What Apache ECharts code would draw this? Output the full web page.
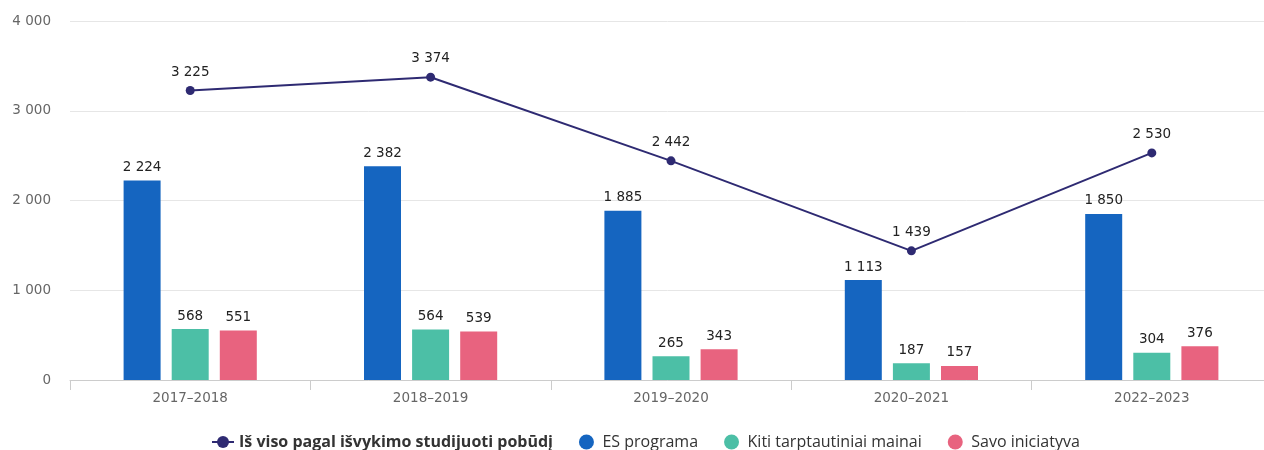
<!DOCTYPE html>
<html>
<head>
<meta charset="utf-8">
<script src="https://cdn.jsdelivr.net/npm/echarts@6/dist/echarts.min.js"></script>
<style>
  html, body { margin: 0; padding: 0; background: #ffffff; }
  #chart { width: 1264px; height: 450px; }
</style>
</head>
<body>
<div id="chart"></div>
<script>
// Studijų metai
const categories = ['2017–2018', '2018–2019', '2019–2020', '2020–2021', '2022–2023'];

// Išvykusių studentų skaičius
const totalValues = [3225, 3374, 2442, 1439, 2530];
const esValues = [2224, 2382, 1885, 1113, 1850];
const otherExchangeValues = [568, 564, 265, 187, 304];
const ownInitiativeValues = [551, 539, 343, 157, 376];

const yTicks = [0, 1000, 2000, 3000, 4000];

const seriesNames = [
  'Iš viso pagal išvykimo studijuoti pobūdį',
  'ES programa',
  'Kiti tarptautiniai mainai',
  'Savo iniciatyva'
];

const colors = ['#2e2a72', '#1565c0', '#4cbfa6', '#e8637f'];

function fmt(v) {
  return String(v).replace(/\B(?=(\d{3})+(?!\d))/g, ' ');
}

const numFont = 'DejaVu Sans, Verdana, sans-serif';
const legendFont = '"Open Sans", "Noto Sans", sans-serif';

const barLabel = {
  show: true,
  position: 'top',
  distance: 6,
  color: '#222',
  fontFamily: numFont,
  fontSize: 13.5,
  formatter: p => fmt(p.value)
};

const chart = echarts.init(document.getElementById('chart'), null, { renderer: 'canvas' });

chart.setOption({
  animation: false,
  // plot area runs slightly past the right edge of the canvas
  grid: { left: 70, width: 1202, top: 21, bottom: 70, containLabel: false, outerBoundsMode: 'none' },
  legend: {
    top: 429,
    left: 206,
    itemGap: 26,
    itemWidth: 22,
    itemHeight: 15,
    textStyle: { fontFamily: legendFont, fontSize: 16, color: '#333' },
    data: [
      { name: seriesNames[0], textStyle: { fontWeight: 'bold' } },
      { name: seriesNames[1], icon: 'circle' },
      { name: seriesNames[2], icon: 'circle' },
      { name: seriesNames[3], icon: 'circle' }
    ]
  },
  xAxis: {
    type: 'category',
    data: categories,
    boundaryGap: true,
    axisLine: { lineStyle: { color: '#cccccc' } },
    axisTick: { show: true, length: 10, lineStyle: { color: '#cccccc' } },
    axisLabel: { color: '#666', fontFamily: numFont, fontSize: 13.5, margin: 11 }
  },
  yAxis: {
    type: 'value',
    min: yTicks[0],
    max: yTicks[yTicks.length - 1],
    interval: 1000,
    axisLine: { show: false },
    axisTick: { show: false },
    splitLine: { lineStyle: { color: '#e6e6e6' } },
    axisLabel: { color: '#666', fontFamily: numFont, fontSize: 13.5, margin: 19, formatter: v => fmt(v) }
  },
  series: [
    {
      name: seriesNames[0],
      type: 'line',
      data: totalValues,
      z: 5,
      color: colors[0],
      symbol: 'circle',
      symbolSize: 9,
      lineStyle: { width: 2, color: colors[0] },
      itemStyle: { color: colors[0] },
      label: {
        show: true, position: 'top', distance: 7, color: '#222',
        fontFamily: numFont, fontSize: 13.5, formatter: p => fmt(p.value)
      }
    },
    {
      name: seriesNames[1], type: 'bar', data: esValues, color: colors[1],
      barWidth: 37, barGap: '30%', itemStyle: { color: colors[1] }, label: barLabel
    },
    {
      name: seriesNames[2], type: 'bar', data: otherExchangeValues, color: colors[2],
      barWidth: 37, barGap: '30%', itemStyle: { color: colors[2] }, label: barLabel
    },
    {
      name: seriesNames[3], type: 'bar', data: ownInitiativeValues, color: colors[3],
      barWidth: 37, barGap: '30%', itemStyle: { color: colors[3] }, label: barLabel
    }
  ]
});
</script>
</body>
</html>
